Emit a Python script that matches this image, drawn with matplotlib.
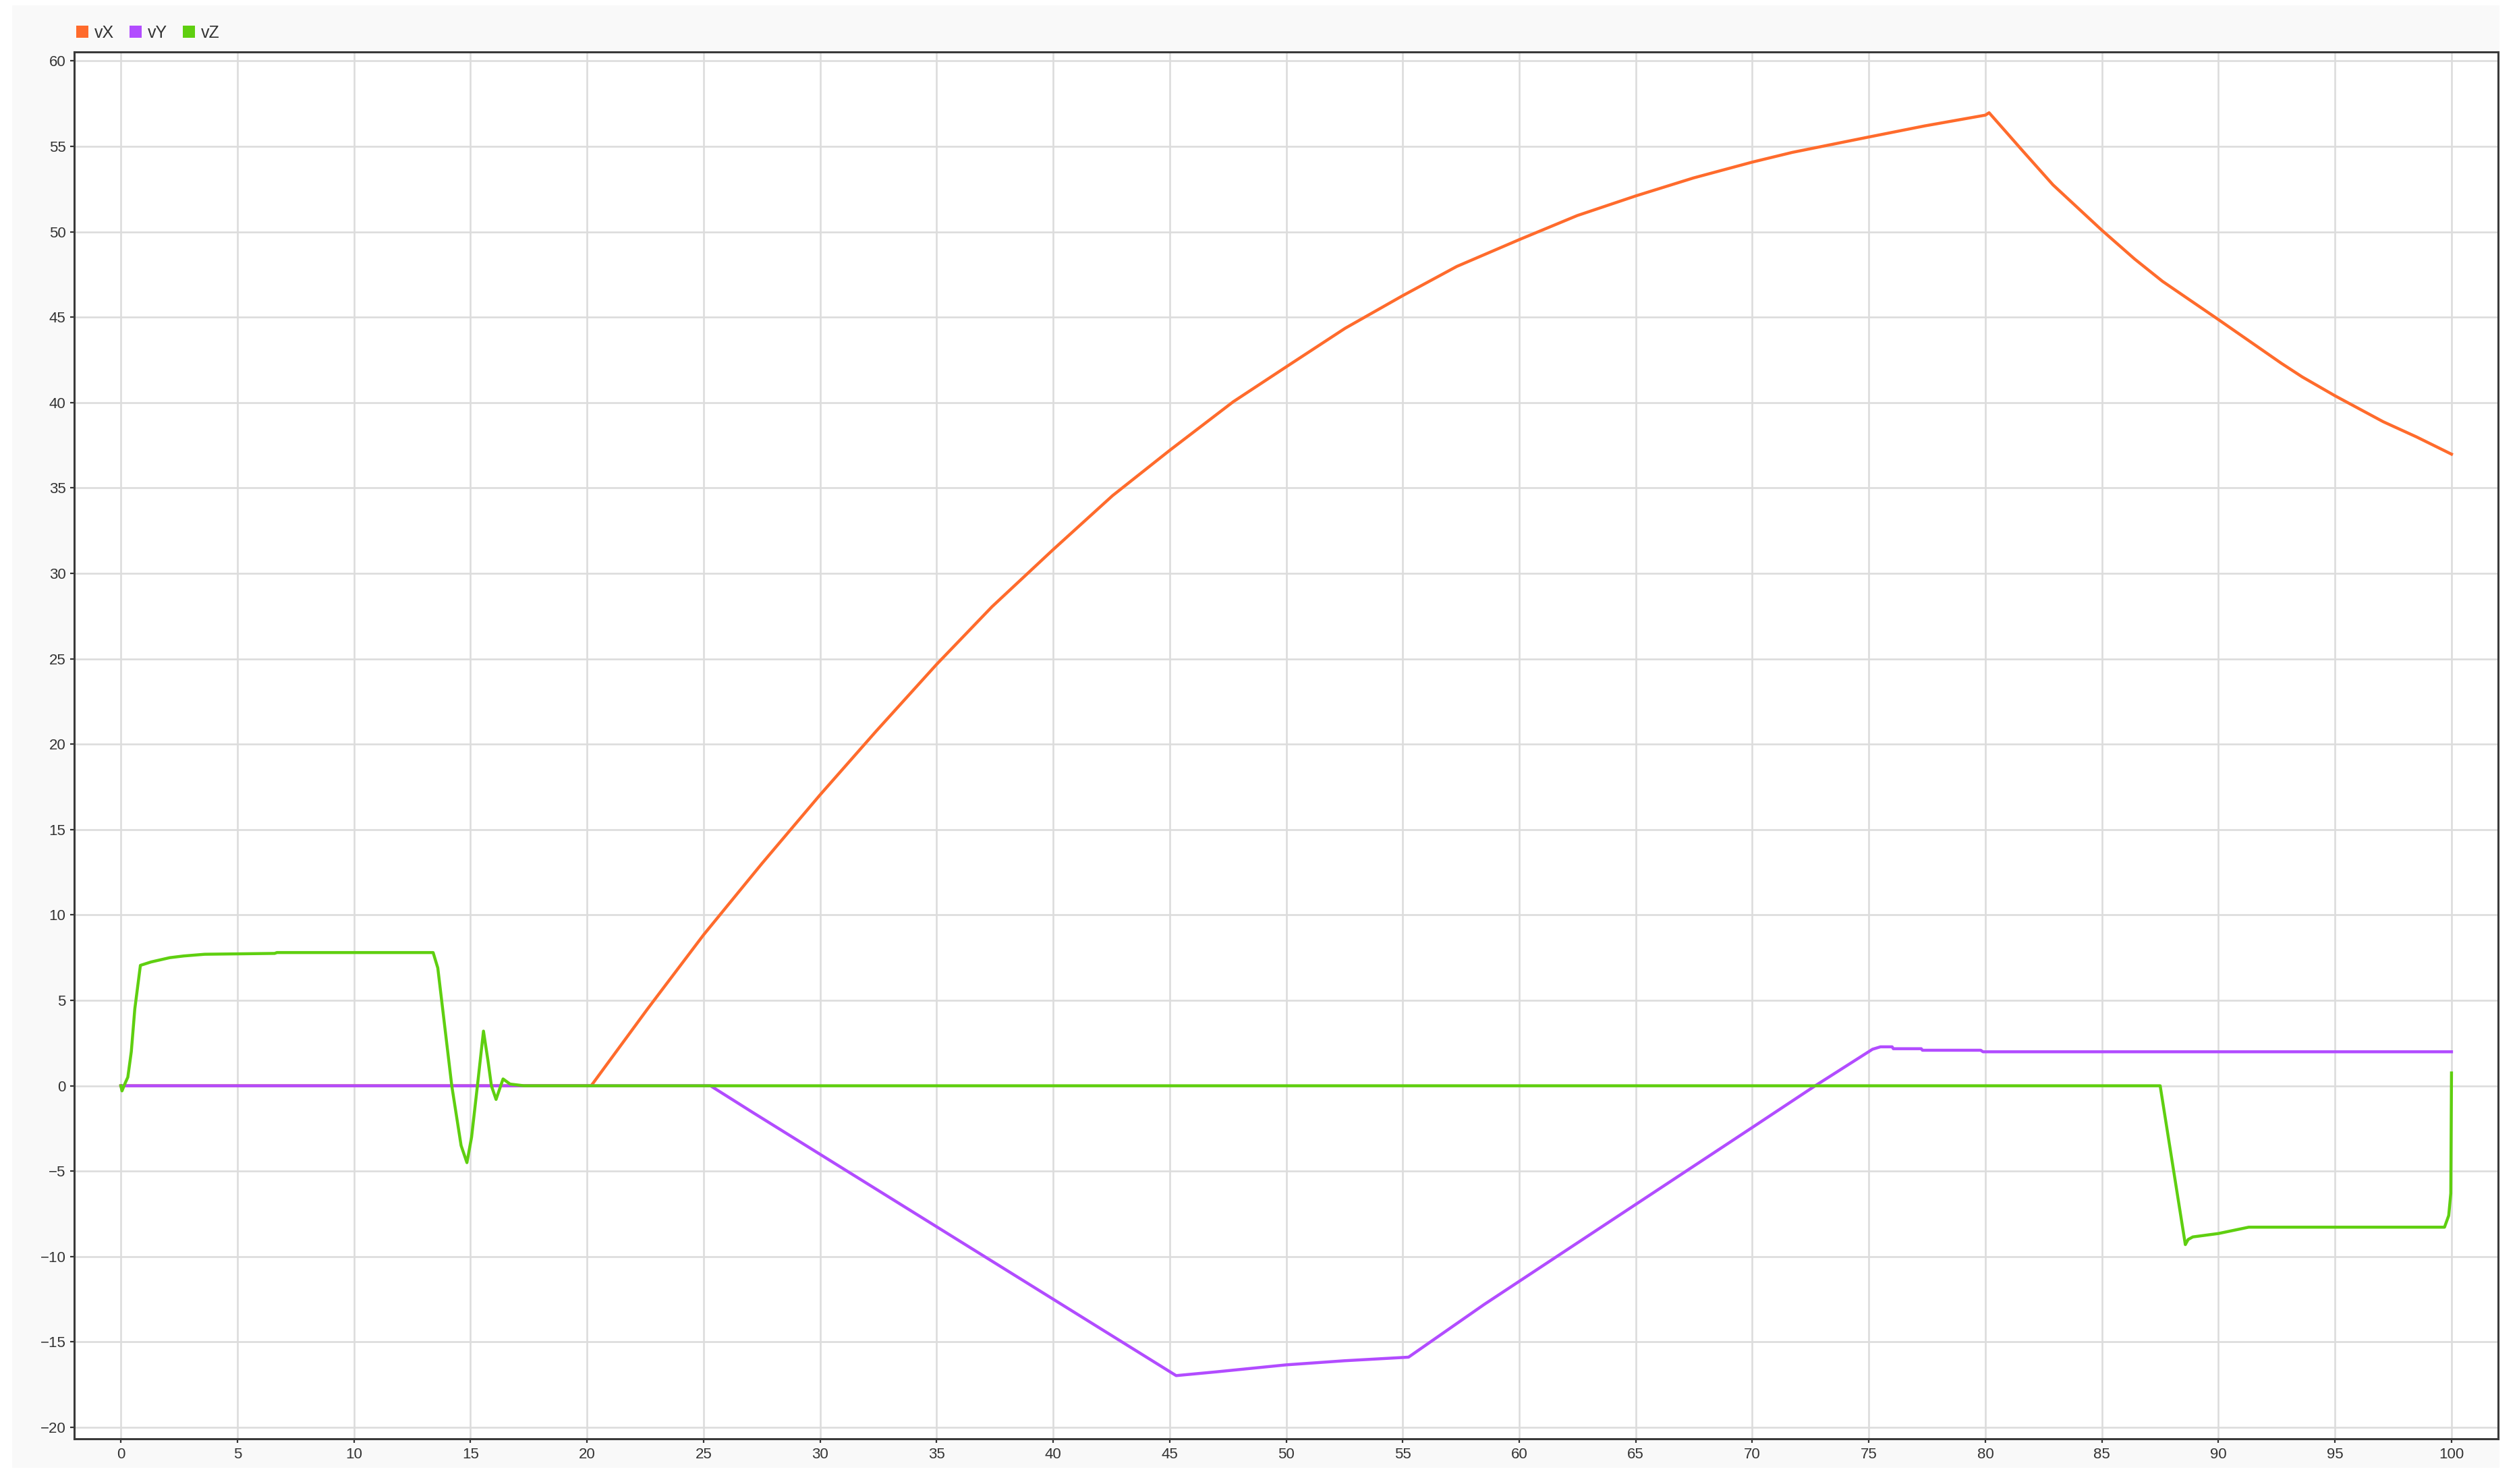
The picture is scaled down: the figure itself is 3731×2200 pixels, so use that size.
import matplotlib
matplotlib.use('Agg')
import matplotlib.pyplot as plt
from matplotlib.lines import Line2D
from matplotlib.patches import Rectangle

# vX (orange)
t_vx = [0, 20.18, 22.6, 25, 27.5, 30, 32.4, 35, 37.38, 40, 42.55, 45, 47.73,
        50, 52.53, 55, 57.32, 60, 62.49, 65, 67.47, 70, 71.72, 75, 77.4, 80, 80.16,
        80.93, 81.6, 82.9, 85, 86.41, 87.6, 90, 92.7, 93.6, 95, 97.07, 98.5, 100]
vx = [0, 0, 4.5, 8.83, 13.0, 17.03, 20.75, 24.67, 28.05, 31.39, 34.55, 37.2, 40.05,
      42.09, 44.35, 46.26, 47.97, 49.54, 50.95, 52.1, 53.15, 54.08, 54.65, 55.55, 56.2,
      56.83, 56.97, 55.78, 54.74, 52.75, 50.09, 48.4, 47.1, 44.86, 42.3, 41.5, 40.4,
      38.88, 37.99, 36.98]

# vY (purple)
t_vy = [0, 25.3, 27.1, 45.28, 47, 50, 52.5, 55.25, 58.5, 70.1, 72.7, 75.16, 75.5,
        76.0, 76.05, 77.25, 77.3, 79.8, 79.9, 100]
vy = [0, 0, -1.55, -16.97, -16.75, -16.34, -16.1, -15.89, -12.8, -2.35, 0, 2.14, 2.28,
      2.28, 2.17, 2.17, 2.08, 2.08, 1.99, 1.99]

# vZ (green)
t_vz = [0, 0.05, 0.2, 0.3, 0.45, 0.6, 0.84, 1.3, 2.1, 2.7, 3.6, 6.6, 6.7, 13.4,
        13.6, 14.2, 14.6, 14.85, 15.05, 15.3, 15.56, 15.75, 15.9, 16.1, 16.4, 16.7,
        17.3, 87.5, 88.58, 88.7, 88.9, 90.0, 91.3, 99.7, 99.88, 99.97, 100.0]
vz = [0, -0.3, 0.2, 0.5, 2.0, 4.5, 7.05, 7.25, 7.5, 7.6, 7.7, 7.75, 7.8, 7.8,
      6.9, 0, -3.5, -4.5, -3.0, 0, 3.2, 1.5, 0, -0.8, 0.4, 0.1,
      0, 0, -9.3, -9.0, -8.85, -8.65, -8.28, -8.28, -7.6, -6.3, 0.75]

series = ['vX', 'vY', 'vZ']
colors = ['#ff6b2c', '#b24cff', '#5fcf10']

W, H = 3731, 2200
fig = plt.figure(figsize=(W / 100, H / 100), dpi=100, facecolor='white')
plt.rcParams['font.family'] = ['Liberation Sans', 'DejaVu Sans']

# light grey panel behind the chart
fig.patches.append(Rectangle((18 / W, 1 - 2176 / H), (3705 - 18) / W, (2176 - 8) / H,
                             transform=fig.transFigure, facecolor='#f9f9f9',
                             edgecolor='none', zorder=-10))

ax = fig.add_axes([110 / W, 1 - 2133 / H, (3703 - 110) / W, (2133 - 77) / H])
ax.set_facecolor('white')

for t, v, c, name in zip([t_vx, t_vy, t_vz], [vx, vy, vz], colors, series):
    ax.plot(t, v, color=c, lw=3.2, label=name, solid_joinstyle='round')

ax.set_xlim(-2, 102)
ax.set_ylim(-20.67, 60.53)
ax.set_xticks(range(0, 101, 5))
ax.set_yticks(range(-20, 61, 5))
ax.grid(True, color='#dcdcdc', lw=1.9)
ax.set_axisbelow(True)
for s in ax.spines.values():
    s.set_color('#3a3a3a')
    s.set_linewidth(2.2)
ax.tick_params(length=4, width=1.6, color='#333333', labelsize=16,
               labelcolor='#333333', pad=5)

handles = [Line2D([], [], marker='s', ls='none', markersize=13, color=c,
                  markeredgewidth=0) for c in colors]
fig.legend(handles, series, loc='center left', ncol=3, frameon=False,
           bbox_to_anchor=(112 / W, 1 - 49 / H), bbox_transform=fig.transFigure,
           fontsize=18, handlelength=0.8, handletextpad=0.3, columnspacing=0.9,
           borderpad=0, borderaxespad=0, labelcolor='#333333')

fig.savefig('out.png', dpi=100, facecolor='white')
